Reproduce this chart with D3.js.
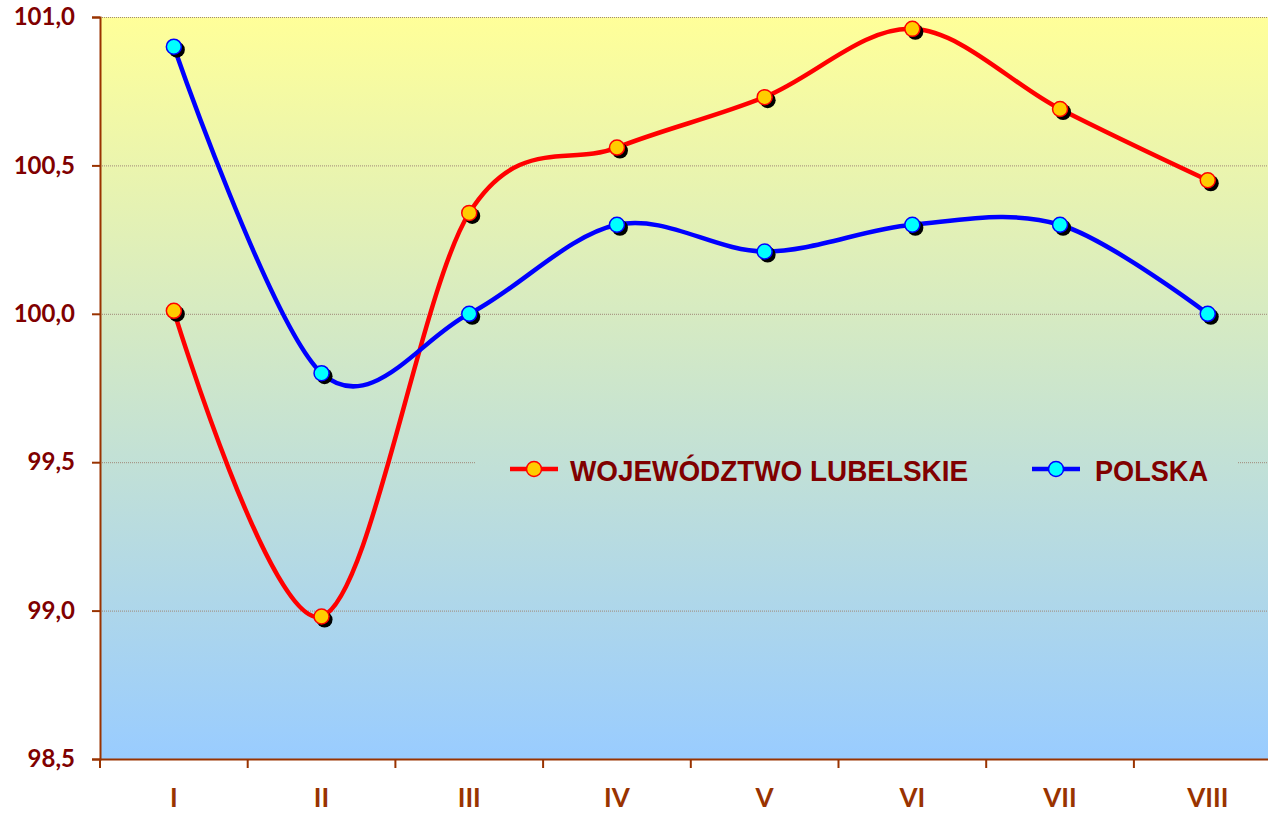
<!DOCTYPE html>
<html>
<head>
<meta charset="utf-8">
<script src="https://cdn.jsdelivr.net/npm/d3@7"></script>
<style>
  body { margin: 0; background: #fff; }
  svg { display: block; }
</style>
</head>
<body>
<svg id="chart"></svg>
<script>
// data
var months = ['I', 'II', 'III', 'IV', 'V', 'VI', 'VII', 'VIII'];
var lubelskie = [100.01, 98.98, 100.34, 100.56, 100.73, 100.96, 100.69, 100.45];
var polska = [100.9, 99.8, 100.0, 100.3, 100.21, 100.3, 100.3, 100.0];
var yTicks = [98.5, 99.0, 99.5, 100.0, 100.5, 101.0];
var seriesNames = ['WOJEWÓDZTWO LUBELSKIE', 'POLSKA'];

var width = 1268, height = 815;
var plotLeft = 100, plotTop = 17, plotBottom = 759, bandW = 147.7;

var svg = d3.select('#chart').attr('width', width).attr('height', height);

var x = d3.scaleBand().domain(months).range([plotLeft, plotLeft + bandW * months.length]);
var y = d3.scaleLinear().domain([98.5, 101]).range([plotBottom, plotTop]);

// background gradient
var defs = svg.append('defs');
var grad = defs.append('linearGradient')
    .attr('id', 'bg')
    .attr('gradientUnits', 'userSpaceOnUse')
    .attr('x1', 0).attr('y1', plotTop).attr('x2', 0).attr('y2', plotBottom);
grad.append('stop').attr('offset', '0%').attr('stop-color', '#ffff99');
grad.append('stop').attr('offset', '100%').attr('stop-color', '#99ccff');

svg.append('rect')
    .attr('x', plotLeft).attr('y', plotTop)
    .attr('width', width - plotLeft).attr('height', plotBottom - plotTop)
    .attr('fill', 'url(#bg)');

// gridlines
svg.append('g').selectAll('line')
    .data(yTicks.slice(1))
    .join('line')
    .attr('x1', plotLeft).attr('x2', width)
    .attr('y1', d => y(d) + 0.5).attr('y2', d => y(d) + 0.5)
    .attr('stroke', '#a08878')
    .attr('stroke-width', 1)
    .attr('stroke-dasharray', '1,1');

// axes
var yAxis = d3.axisLeft(y).tickValues(yTicks).tickSize(8)
    .tickFormat(d => d3.format('.1f')(d).replace('.', ','));
var yAxisG = svg.append('g')
    .attr('transform', `translate(${plotLeft},0)`)
    .call(yAxis);
yAxisG.select('.domain').attr('stroke', '#993300').attr('stroke-width', 2);
yAxisG.selectAll('.tick line').attr('stroke', '#993300').attr('stroke-width', 2);
yAxisG.selectAll('.tick text')
    .attr('x', -25)
    .attr('fill', '#800000')
    .style('font-family', 'Lato')
    .style('font-weight', 'bold')
    .style('font-size', '24px');

var xAxis = d3.axisBottom(x).tickSize(0);
var xAxisG = svg.append('g')
    .attr('transform', `translate(0,${plotBottom})`)
    .call(xAxis);
xAxisG.select('.domain').attr('stroke', '#993300').attr('stroke-width', 2);
xAxisG.selectAll('.tick text')
    .attr('y', 30)
    .attr('fill', '#993300')
    .style('font-family', 'Lato')
    .style('font-weight', 'bold')
    .style('font-size', '26px');

// category separator ticks
svg.append('g').selectAll('line')
    .data(months)
    .join('line')
    .attr('x1', d => x(d)).attr('x2', d => x(d))
    .attr('y1', plotBottom).attr('y2', plotBottom + 9)
    .attr('stroke', '#993300')
    .attr('stroke-width', 2);

// series
var line = d3.line()
    .x((d, i) => x(months[i]) + x.bandwidth() / 2)
    .y(d => y(d))
    .curve(d3.curveCardinal.tension(0));

var series = [
    { name: seriesNames[0], values: lubelskie, stroke: '#ff0000', fill: '#ffcc00' },
    { name: seriesNames[1], values: polska, stroke: '#0000ff', fill: '#00ffff' }
];

series.forEach(function(s){
    svg.append('path')
        .attr('d', line(s.values))
        .attr('fill', 'none')
        .attr('stroke', s.stroke)
        .attr('stroke-width', 4.5);
});

series.forEach(function(s){
    var g = svg.append('g');
    g.selectAll('.shadow')
        .data(s.values)
        .join('circle')
        .attr('cx', (d, i) => x(months[i]) + x.bandwidth() / 2 + 3)
        .attr('cy', d => y(d) + 3)
        .attr('r', 8)
        .attr('fill', '#000');
    g.selectAll('.dot')
        .data(s.values)
        .join('circle')
        .attr('cx', (d, i) => x(months[i]) + x.bandwidth() / 2)
        .attr('cy', d => y(d))
        .attr('r', 7.5)
        .attr('fill', s.fill)
        .attr('stroke', s.stroke)
        .attr('stroke-width', 1.5);
});

// legend
var legendG = svg.append('g');
legendG.append('rect')
    .attr('x', 476).attr('y', 440)
    .attr('width', 762).attr('height', 56)
    .attr('fill', 'url(#bg)');

var legendItems = [
    { s: series[0], x: 510, textX: 570, textW: 398 },
    { s: series[1], x: 1032, textX: 1095, textW: 113 }
];
legendItems.forEach(function(it){
    var ly = 469;
    legendG.append('line')
        .attr('x1', it.x).attr('x2', it.x + 48)
        .attr('y1', ly).attr('y2', ly)
        .attr('stroke', it.s.stroke)
        .attr('stroke-width', 4.5);
    legendG.append('circle')
        .attr('cx', it.x + 24).attr('cy', ly)
        .attr('r', 7.5)
        .attr('fill', it.s.fill)
        .attr('stroke', it.s.stroke)
        .attr('stroke-width', 1.5);
    legendG.append('text')
        .attr('x', it.textX).attr('y', ly + 12)
        .text(it.s.name)
        .attr('fill', '#800000')
        .attr('textLength', it.textW)
        .attr('lengthAdjust', 'spacingAndGlyphs')
        .style('font-family', 'Liberation Sans, Arial')
        .style('font-weight', 'bold')
        .style('font-size', '30px');
});
</script>
</body>
</html>
